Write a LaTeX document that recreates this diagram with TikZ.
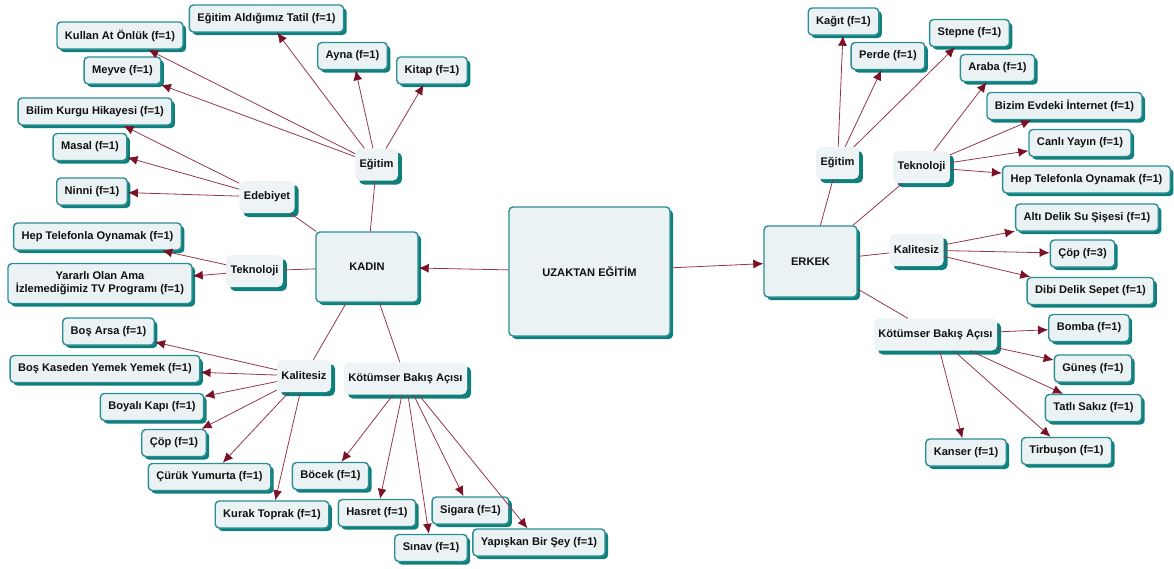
\documentclass[tikz,border=0pt]{standalone}
\usepackage{fontspec}
\setmainfont{Liberation Sans}
\usepackage{xcolor}
\usepackage{tikz}
\usetikzlibrary{shapes,arrows.meta,shadows}

\definecolor{boxfill}{HTML}{EBF2F4}
\definecolor{phrasefill}{HTML}{EEF4F6}
\definecolor{boxedge}{HTML}{2A8E94}
\definecolor{boxshade}{HTML}{0F7F7C}
\definecolor{linecol}{HTML}{93384B}
\definecolor{tipcol}{HTML}{7A1126}
\definecolor{textcol}{HTML}{111111}

\begin{document}
\begin{tikzpicture}[x=1pt, y=-1pt, font=\fontsize{11.1}{12.8}\selectfont\bfseries, text=textcol]
    \tikzstyle{block} = [rectangle, draw=boxedge, line width=1.4pt, fill=boxfill,
        rounded corners=4pt, minimum height=27pt, inner xsep=8pt, inner ysep=2pt,
        drop shadow={shadow xshift=3pt, shadow yshift=-3pt, fill=boxshade, opacity=1}]
    \tikzstyle{mainblock} = [block, inner sep=0pt]
    \tikzstyle{phrase} = [rectangle, fill=phrasefill, rounded corners=5pt,
        minimum height=32pt, inner xsep=4.5pt,
        drop shadow={shadow xshift=4pt, shadow yshift=-4pt, fill=boxshade, opacity=1}]
    \tikzstyle{line} = [draw=linecol, line width=0.8pt, -{Latex[length=10pt, width=9pt, color=tipcol]}]
    \tikzstyle{tie} = [draw=linecol, line width=0.8pt]

    \useasboundingbox (0,0) rectangle (1174,568);

    \node [mainblock, minimum width=161pt, minimum height=129pt] (uzaktan) at (589.5,271.5) {UZAKTAN EĞİTİM};
    \node [mainblock, minimum width=102pt, minimum height=70pt] (kadin) at (367,267) {KADIN};
    \node [mainblock, minimum width=93pt, minimum height=71pt] (erkek) at (810.5,261.5) {ERKEK};

    \node [phrase] (egitimL) at (376.5,164.5) {Eğitim};
    \node [phrase] (edebiyet) at (267,197) {Edebiyet};
    \node [phrase] (teknolojiL) at (254.5,271) {Teknoloji};
    \node [phrase] (kalitesizL) at (304,376) {Kalitesiz};
    \node [phrase] (kotumserL) at (405.5,378.5) {Kötümser Bakış Açısı};

    \node [phrase] (egitimR) at (837.5,163) {Eğitim};
    \node [phrase] (teknolojiR) at (921.5,167) {Teknoloji};
    \node [phrase] (kalitesizR) at (916.5,250) {Kalitesiz};
    \node [phrase] (kotumserR) at (935.5,334.5) {Kötümser Bakış Açısı};

    \node [block] (tatil) at (266.5,18.5) {Eğitim Aldığımız Tatil (f=1)};
    \node [block] (onluk) at (120,35.5) {Kullan At Önlük (f=1)};
    \node [block] (ayna) at (352.5,56) {Ayna (f=1)};
    \node [block] (kitap) at (432,70.5) {Kitap (f=1)};
    \node [block] (meyve) at (122.5,70.5) {Meyve (f=1)};
    \node [block] (bilim) at (95,111.5) {Bilim Kurgu Hikayesi (f=1)};
    \node [block] (masal) at (90,147) {Masal (f=1)};
    \node [block] (ninni) at (92,191.5) {Ninni (f=1)};
    \node [block] (telefonL) at (97.5,236.5) {Hep Telefonla Oynamak (f=1)};
    \node [block, align=center, minimum height=40pt] (yararli) at (100,283.5) {Yararlı Olan Ama\\İzlemediğimiz TV Programı (f=1)};
    \node [block] (arsa) at (108.5,331.5) {Boş Arsa (f=1)};
    \node [block] (kase) at (105,369) {Boş Kaseden Yemek Yemek (f=1)};
    \node [block] (boyali) at (152,407) {Boyalı Kapı (f=1)};
    \node [block] (copL) at (174,443) {Çöp (f=1)};
    \node [block] (curuk) at (209.5,477) {Çürük Yumurta (f=1)};
    \node [block] (kurak) at (272,514.5) {Kurak Toprak (f=1)};
    \node [block] (bocek) at (330.5,476) {Böcek (f=1)};
    \node [block] (hasret) at (377,513) {Hasret (f=1)};
    \node [block] (sigara) at (470.5,510.5) {Sigara (f=1)};
    \node [block] (sinav) at (431,548) {Sınav (f=1)};
    \node [block] (yapiskan) at (539,542.5) {Yapışkan Bir Şey (f=1)};

    \node [block] (kagit) at (843.5,21.5) {Kağıt (f=1)};
    \node [block] (perde) at (888,56) {Perde (f=1)};
    \node [block] (stepne) at (969.5,33) {Stepne (f=1)};
    \node [block] (araba) at (997.5,68) {Araba (f=1)};
    \node [block] (internet) at (1064.5,106) {Bizim Evdeki İnternet (f=1)};
    \node [block] (canli) at (1080,143) {Canlı Yayın (f=1)};
    \node [block] (telefonR) at (1086.5,179.5) {Hep Telefonla Oynamak (f=1)};
    \node [block] (alti) at (1087,217.5) {Altı Delik Su Şişesi (f=1)};
    \node [block] (copR) at (1082.5,253.5) {Çöp (f=3)};
    \node [block] (dibi) at (1090.5,291) {Dibi Delik Sepet (f=1)};
    \node [block] (bomba) at (1089,328) {Bomba (f=1)};
    \node [block] (gunes) at (1093,368.5) {Güneş (f=1)};
    \node [block] (tatli) at (1093.5,408) {Tatlı Sakız (f=1)};
    \node [block] (kanser) at (966,452.5) {Kanser (f=1)};
    \node [block] (tirbuson) at (1066.5,451) {Tirbuşon (f=1)};

    \path [line] (uzaktan) -- (kadin);
    \path [line] (uzaktan) -- (erkek);

    \path [tie] (kadin) -- (egitimL);
    \path [tie] (kadin) -- (edebiyet);
    \path [tie] (kadin) -- (teknolojiL);
    \path [tie] (kadin) -- (kalitesizL);
    \path [tie] (kadin) -- (kotumserL);

    \path [line] (egitimL) -- (tatil);
    \path [line] (egitimL) -- (onluk);
    \path [line] (egitimL) -- (ayna);
    \path [line] (egitimL) -- (kitap);
    \path [line] (egitimL) -- (meyve);
    \path [line] (edebiyet) -- (bilim);
    \path [line] (edebiyet) -- (masal);
    \path [line] (edebiyet) -- (ninni);
    \path [line] (teknolojiL) -- (telefonL);
    \path [line] (teknolojiL) -- (yararli);
    \path [line] (kalitesizL) -- (arsa);
    \path [line] (kalitesizL) -- (kase);
    \path [line] (kalitesizL) -- (boyali);
    \path [line] (kalitesizL) -- (copL);
    \path [line] (kalitesizL) -- (curuk);
    \path [line] (kalitesizL) -- (kurak);
    \path [line] (kotumserL) -- (bocek);
    \path [line] (kotumserL) -- (hasret);
    \path [line] (kotumserL) -- (sinav);
    \path [line] (kotumserL) -- (sigara);
    \path [line] (kotumserL) -- (yapiskan);

    \path [tie] (erkek) -- (egitimR);
    \path [tie] (erkek) -- (teknolojiR);
    \path [tie] (erkek) -- (kalitesizR);
    \path [tie] (erkek) -- (kotumserR);

    \path [line] (egitimR) -- (kagit);
    \path [line] (egitimR) -- (perde);
    \path [line] (egitimR) -- (stepne);
    \path [line] (teknolojiR) -- (araba);
    \path [line] (teknolojiR) -- (internet);
    \path [line] (teknolojiR) -- (canli);
    \path [line] (teknolojiR) -- (telefonR);
    \path [line] (kalitesizR) -- (alti);
    \path [line] (kalitesizR) -- (copR);
    \path [line] (kalitesizR) -- (dibi);
    \path [line] (kotumserR) -- (bomba);
    \path [line] (kotumserR) -- (gunes);
    \path [line] (kotumserR) -- (tatli);
    \path [line] (kotumserR) -- (kanser);
    \path [line] (kotumserR) -- (tirbuson);
\end{tikzpicture}
\end{document}
